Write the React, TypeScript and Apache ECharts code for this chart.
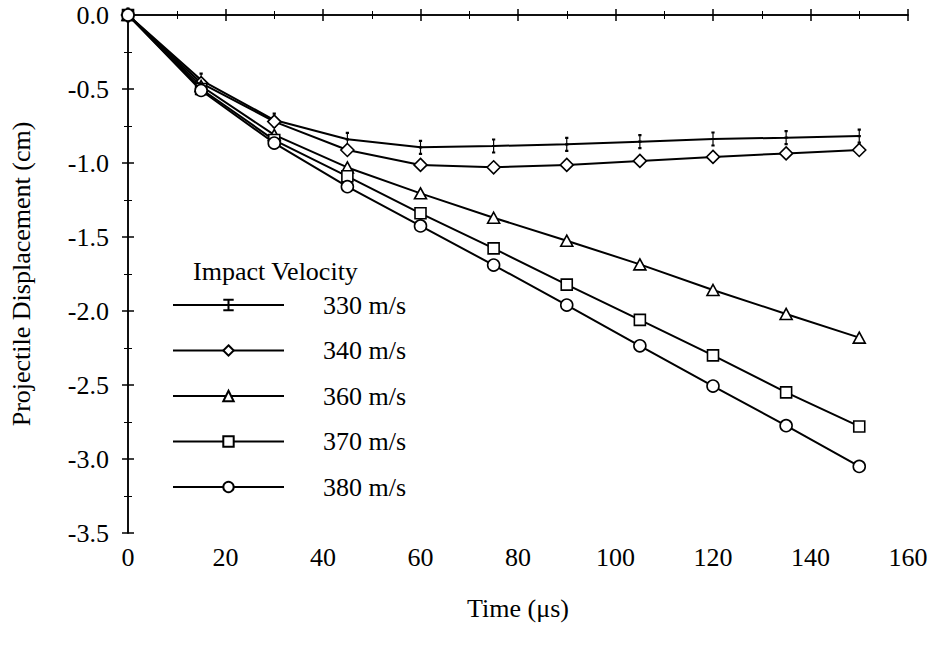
import React, { useEffect, useRef } from "react";
import * as echarts from "echarts";

const times = [0, 15, 30, 45, 60, 75, 90, 105, 120, 135, 150];
const seriesNames = ["330 m/s", "340 m/s", "360 m/s", "370 m/s", "380 m/s"];
const v330 = [0, -0.44, -0.71, -0.84, -0.894, -0.885, -0.874, -0.856, -0.838, -0.829, -0.818];
const v340 = [0, -0.46, -0.72, -0.912, -1.013, -1.029, -1.013, -0.986, -0.959, -0.935, -0.912];
const v360 = [0, -0.48, -0.81, -1.03, -1.205, -1.37, -1.525, -1.685, -1.858, -2.02, -2.18];
const v370 = [0, -0.5, -0.845, -1.09, -1.34, -1.577, -1.822, -2.06, -2.3, -2.55, -2.78];
const v380 = [0, -0.51, -0.865, -1.16, -1.425, -1.69, -1.96, -2.235, -2.507, -2.775, -3.05];
const allValues = [v330, v340, v360, v370, v380];

const xTicks = [0, 20, 40, 60, 80, 100, 120, 140, 160];
const yTicks = [0, -0.5, -1, -1.5, -2, -2.5, -3, -3.5];

const FONT = "'Liberation Serif', 'DejaVu Serif', serif";
const FS = 26;

const ibeam = "path://M0 0 L6 0 M3 0 L3 13 M0 13 L6 13 M0 6.5 L6 6.5";
const symbols = [ibeam, "diamond", "triangle", "rect", "circle"];
const symbolSizes: any[] = [[7, 13], [13, 13], [12, 11], [11, 11], [12, 12]];

export default function App() {
  const ref = useRef<HTMLDivElement>(null);
  useEffect(() => {
    if (!ref.current) return;
    const chart = echarts.init(ref.current, null, { renderer: "svg" });
    const tickCommon = {
      axisLine: { show: true, lineStyle: { color: "#000", width: 1.5 } },
      axisTick: { show: true, inside: true, length: 6, lineStyle: { color: "#000", width: 1.5 } },
      minorTick: { show: true, splitNumber: 2, length: 4, lineStyle: { color: "#000", width: 1 } },
      splitLine: { show: false },
      minorSplitLine: { show: false },
    };
    const series = seriesNames.map((name, i) => ({
      name,
      type: "line",
      xAxisIndex: 0,
      yAxisIndex: 0,
      data: times.map((t, j) => [t, allValues[i][j]]),
      symbol: symbols[i],
      symbolSize: symbolSizes[i],
      symbolKeepAspect: true,
      showAllSymbol: true,
      lineStyle: { color: "#000", width: 2 },
      itemStyle: { color: "#fff", borderColor: "#000", borderWidth: 1.6 },
      emphasis: { disabled: true },
      z: 2 + i,
    }));
    chart.setOption({
      animation: false,
      backgroundColor: "#fff",
      textStyle: { fontFamily: FONT },
      grid: { left: 128, right: 23, top: 15, bottom: 116, containLabel: false, outerBoundsMode: "none" },
      title: {
        text: "Impact Velocity",
        left: 188,
        top: 251,
        textStyle: { fontFamily: FONT, fontSize: FS, fontWeight: "normal", color: "#000", lineHeight: 30 },
      },
      legend: {
        orient: "vertical",
        left: 167,
        top: 287,
        itemWidth: 111,
        itemHeight: 13,
        itemGap: 19.5,
        data: seriesNames,
        textStyle: {
          fontFamily: FONT,
          fontSize: FS,
          lineHeight: 26,
          color: "#000",
          padding: [0, 0, 0, 34],
        },
        selectedMode: false,
      },
      xAxis: [
        {
          type: "value",
          position: "bottom",
          min: 0,
          max: 160,
          interval: 20,
          name: "Time (\u03bcs)",
          nameLocation: "middle",
          nameGap: 62,
          nameTextStyle: { fontFamily: FONT, fontSize: FS, color: "#000" },
          axisLabel: {
            margin: 11,
            fontFamily: FONT,
            fontSize: FS,
            color: "#000",
            customValues: xTicks,
          },
          ...tickCommon,
        },
        {
          type: "value",
          position: "top",
          min: 0,
          max: 160,
          interval: 20,
          axisLabel: { show: false },
          ...tickCommon,
        },
      ],
      yAxis: [
        {
          type: "value",
          position: "left",
          min: -3.5,
          max: 0,
          interval: 0.5,
          name: "Projectile Displacement (cm)",
          nameLocation: "middle",
          nameGap: 94,
          nameRotate: 90,
          nameTextStyle: { fontFamily: FONT, fontSize: FS, color: "#000" },
          axisLabel: {
            margin: 19,
            fontFamily: FONT,
            fontSize: FS,
            color: "#000",
            formatter: (v: number) => {
              const r = yTicks.find((t) => Math.abs(t - v) < 1e-9);
              return (r === undefined ? v : r).toFixed(1);
            },
          },
          ...tickCommon,
        },
        {
          type: "value",
          position: "right",
          min: -3.5,
          max: 0,
          interval: 0.5,
          axisLabel: { show: false },
          ...tickCommon,
        },
      ],
      series,
    });
    return () => chart.dispose();
  }, []);
  return (
    <div
      ref={ref}
      style={{ position: "fixed", left: 0, top: 0, width: 931, height: 649, background: "#fff" }}
    />
  );
}
